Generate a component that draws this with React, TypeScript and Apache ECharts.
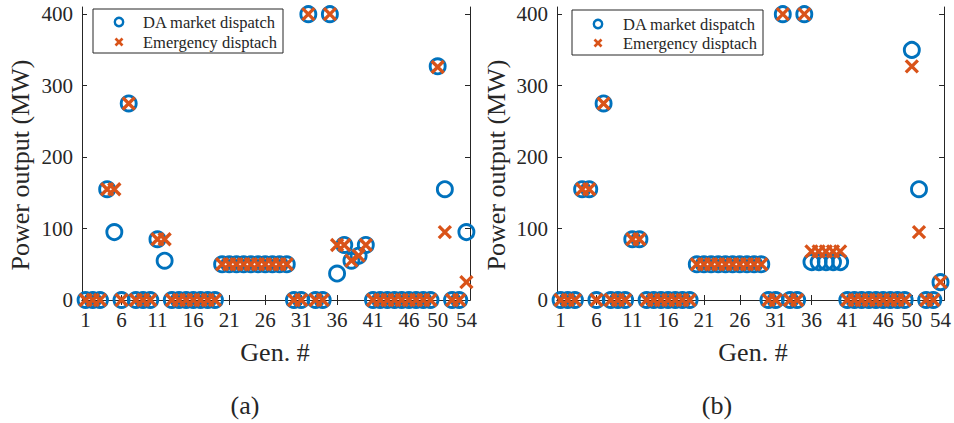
import React, { useEffect, useRef } from "react";
import * as echarts from "echarts";

const gens = [1, 2, 3, 4, 5, 6, 7, 8, 9, 10, 11, 12, 13, 14, 15, 16, 17, 18, 19, 20, 21, 22, 23, 24, 25, 26, 27, 28, 29, 30, 31, 32, 33, 34, 35, 36, 37, 38, 39, 40, 41, 42, 43, 44, 45, 46, 47, 48, 49, 50, 51, 52, 53, 54];

const xTicks = [1, 6, 11, 16, 21, 26, 31, 36, 41, 46, 50, 54];
const yTicks = [0, 100, 200, 300, 400];

// (a)
const daMarketA = [0, 0, 0, 155, 95, 0, 275, 0, 0, 0, 85, 55, 0, 0, 0, 0, 0, 0, 0, 50, 50, 50, 50, 50, 50, 50, 50, 50, 50, 0, 0, 400, 0, 0, 400, 37, 77, 55, 62, 77, 0, 0, 0, 0, 0, 0, 0, 0, 0, 327, 155, 0, 0, 95];
const emergencyA = [0, 0, 0, 155, 155, 0, 275, 0, 0, 0, 85, 85, 0, 0, 0, 0, 0, 0, 0, 50, 50, 50, 50, 50, 50, 50, 50, 50, 50, 0, 0, 400, 0, 0, 400, 77, 77, 55, 62, 77, 0, 0, 0, 0, 0, 0, 0, 0, 0, 326, 95, 0, 0, 25];

// (b)
const daMarketB = [0, 0, 0, 155, 155, 0, 275, 0, 0, 0, 85, 85, 0, 0, 0, 0, 0, 0, 0, 50, 50, 50, 50, 50, 50, 50, 50, 50, 50, 0, 0, 400, 0, 0, 400, 53, 53, 53, 53, 53, 0, 0, 0, 0, 0, 0, 0, 0, 0, 350, 155, 0, 0, 25];
const emergencyB = [0, 0, 0, 155, 155, 0, 275, 0, 0, 0, 85, 85, 0, 0, 0, 0, 0, 0, 0, 50, 50, 50, 50, 50, 50, 50, 50, 50, 50, 0, 0, 400, 0, 0, 400, 68, 68, 68, 68, 68, 0, 0, 0, 0, 0, 0, 0, 0, 0, 327, 95, 0, 0, 25];

const seriesNames = ["DA market dispatch", "Emergency disptach"];
const panelLabels = ["(a)", "(b)"];

const BLUE = "#0072BD";
const ORANGE = "#D95319";
const AXIS = "#262626";
const FONT = "'Liberation Serif', 'Times New Roman', serif";
const XSYM = "path://M0,0L10,10M10,0L0,10";

export default function App() {
  const ref = useRef<HTMLDivElement>(null);
  useEffect(() => {
    if (!ref.current) return;
    const chart = echarts.init(ref.current, null, { renderer: "svg" });
    const grids = [
      { left: 82, top: 7, width: 388, height: 293 },
      { left: 557, top: 7, width: 390, height: 293 },
    ];
    const xAxes: any[] = [];
    const yAxes: any[] = [];
    grids.forEach((_, gi) => {
      const common = { type: "value", min: 0.5, max: 54.5, gridIndex: gi, splitLine: { show: false }, axisLine: { lineStyle: { color: AXIS, width: 1 } } };
      xAxes.push({
        ...common,
        position: "bottom",
        axisTick: { inside: true, length: 5, customValues: xTicks, lineStyle: { color: AXIS } },
        axisLabel: { customValues: xTicks, fontFamily: FONT, fontSize: 21, color: AXIS, margin: 9 },
      });
      xAxes.push({
        ...common,
        position: "top",
        axisTick: { inside: true, length: 5, customValues: xTicks, lineStyle: { color: AXIS } },
        axisLabel: { show: false },
      });
      const ycommon = { type: "value", min: 0, max: 410, gridIndex: gi, splitLine: { show: false }, axisLine: { lineStyle: { color: AXIS, width: 1 } } };
      yAxes.push({
        ...ycommon,
        position: "left",
        axisTick: { inside: true, length: 5, customValues: yTicks, lineStyle: { color: AXIS } },
        axisLabel: { customValues: yTicks, fontFamily: FONT, fontSize: 21, color: AXIS, margin: 9 },
      });
      yAxes.push({
        ...ycommon,
        position: "right",
        axisTick: { inside: true, length: 5, customValues: yTicks, lineStyle: { color: AXIS } },
        axisLabel: { show: false },
      });
    });

    const mk = (vals: number[]) => gens.map((g, i) => [g, vals[i]]);
    const circleSeries = (gi: number, vals: number[]) => ({
      type: "scatter",
      name: seriesNames[0],
      xAxisIndex: gi * 2,
      yAxisIndex: gi * 2,
      data: mk(vals),
      symbol: "circle",
      symbolSize: 15,
      clip: false,
      itemStyle: { color: "none", borderColor: BLUE, borderWidth: 2.9, opacity: 1 },
      emphasis: { disabled: true },
    });
    const crossSeries = (gi: number, vals: number[]) => ({
      type: "scatter",
      name: seriesNames[1],
      xAxisIndex: gi * 2,
      yAxisIndex: gi * 2,
      data: mk(vals),
      symbol: XSYM,
      symbolSize: 12,
      clip: false,
      itemStyle: { color: "none", borderColor: ORANGE, borderWidth: 3.3, opacity: 1 },
      emphasis: { disabled: true },
    });

    const legendGraphic = (x: number, y: number, w: number, h: number, mx: number, tx: number, r1: number, r2: number) => ({
      type: "group",
      children: [
        { type: "rect", shape: { x, y, width: w, height: h }, style: { fill: "#fff", stroke: AXIS, lineWidth: 1 } },
        { type: "circle", shape: { cx: mx, cy: r1, r: 4.2 }, style: { fill: "none", stroke: BLUE, lineWidth: 2.4 } },
        { type: "line", shape: { x1: mx - 3.5, y1: r2 - 3.5, x2: mx + 3.5, y2: r2 + 3.5 }, style: { stroke: ORANGE, lineWidth: 2.7 } },
        { type: "line", shape: { x1: mx - 3.5, y1: r2 + 3.5, x2: mx + 3.5, y2: r2 - 3.5 }, style: { stroke: ORANGE, lineWidth: 2.7 } },
        { type: "text", x: tx, y: r1, style: { text: seriesNames[0], font: `16.5px ${FONT}`, fill: AXIS, textAlign: "left", textVerticalAlign: "middle" } },
        { type: "text", x: tx, y: r2, style: { text: seriesNames[1], font: `16.5px ${FONT}`, fill: AXIS, textAlign: "left", textVerticalAlign: "middle" } },
      ],
    });

    const textEl = (x: number, y: number, text: string, rot = 0) => ({
      type: "text",
      x,
      y,
      rotation: rot,
      style: { text, font: `26px ${FONT}`, fill: AXIS, textAlign: "center", textVerticalAlign: "middle" },
    });

    chart.setOption({
      animation: false,
      backgroundColor: "#fff",
      grid: grids,
      xAxis: xAxes,
      yAxis: yAxes,
      series: [circleSeries(0, daMarketA), crossSeries(0, emergencyA), circleSeries(1, daMarketB), crossSeries(1, emergencyB)],
      graphic: [
        legendGraphic(93, 9, 190, 44, 119, 143, 22, 42),
        legendGraphic(572, 10, 191, 45, 598, 623, 24, 43),
        textEl(20, 165, "Power output (MW)", Math.PI / 2),
        textEl(496, 165, "Power output (MW)", Math.PI / 2),
        textEl(275, 352, "Gen. #"),
        textEl(753, 352, "Gen. #"),
        textEl(245, 405, panelLabels[0]),
        textEl(717, 405, panelLabels[1]),
      ],
    });
    return () => chart.dispose();
  }, []);
  return <div ref={ref} style={{ position: "absolute", left: 0, top: 0, width: 954, height: 423 }} />;
}
